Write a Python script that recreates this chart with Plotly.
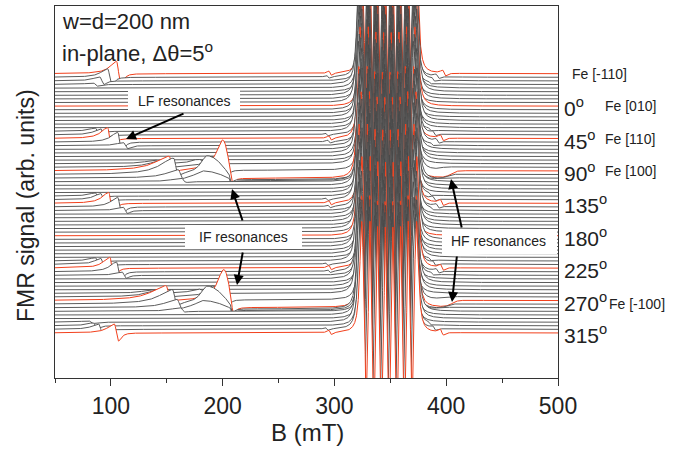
import numpy as np
import plotly.graph_objects as go

# ---------------- data ----------------
ANGLES = list(range(-45, 320, 5))            # 73 spectra, delta theta = 5 deg
RED_ANGLES = [-45, 0, 45, 90, 135, 180, 225, 270, 315]

# main (uniform-mode) band: extrema fields (mT), signed heights (trace-spacing units), half widths (mT)
MAIN_FIELD = [323.0, 326.9, 330.4, 333.8, 337.2, 340.6, 344.1, 347.5,
              350.9, 354.4, 357.8, 361.2, 364.6, 368.1, 372.0]
MAIN_AMP = [32, -30, 32, -32, 32, -32, 32, -32, 32, -32, 32, -32, 32, -30, 32]
MAIN_WIDTH = [2.0, 0.85, 0.85, 0.85, 0.85, 0.85, 0.85, 0.85,
              0.85, 0.85, 0.85, 0.85, 0.85, 0.85, 2.0]
MAIN_SHIFT = [1.6, -0.4, 0.9, -1.3, 0.2, 1.4, -0.9, 0.5, -1.6, 1.1, -0.2, 0.7, -1.1, 1.5, -0.6, 0.3, -1.4, 1.0,
              -0.1, 1.3, -0.8, 0.6, -1.5, 0.1, 1.2, -0.5, 0.8, -1.2, 1.6, -0.3, 0.4, -1.0, 1.4, -0.7, 0.0, -1.6,
              0.9, -0.2, 1.5, -1.1, 0.3, -0.6, 1.1, -1.4, 0.6, -0.9, 1.7, 0.2, -1.3, 0.5, -0.4, 1.0, -1.7, 0.8,
              1.6, -0.8, 0.1, -1.2, 1.3, -0.3, 0.7, -1.5, 0.4, 1.2, -1.0, 0.0, 1.5, -0.6, 0.9, -1.3, 0.3, -0.1, 1.4]

# LF resonances (peak field mT, height in trace-spacing units)
LF_ANGLE = [-45, -40, -35, -30, 35, 40, 45, 50, 55, 125, 130, 135, 140, 145,
            215, 220, 225, 230, 235, 300, 305, 310, 315]
LF_FIELD = [105, 97, 90, 84, 86, 91, 97, 106, 111, 86, 91, 98, 106, 111,
            86, 91, 99, 105, 110, 80, 84, 89, 103]
LF_AMP = [3.4, 2.4, 1.1, 0.5, 0.9, 1.7, 3.0, 2.7, 0.9, 0.9, 1.7, 3.0, 2.7, 0.9,
          0.9, 1.7, 3.0, 2.7, 0.9, 0.4, 0.8, 1.5, 2.5]

# IF resonances: peak field, height, left width, zero-crossing field, negative lobe depth
IF_ANGLE = [80, 85, 90, 95, 100, 105, 80, 85, 90, 95, 100,
            260, 265, 270, 275, 280, 285, 260, 265, 270, 275, 280]
IF_PEAK = [140, 146, 152, 156, 160, 163, 178, 190, 200, 186, 182,
           137, 143, 149, 155, 159, 162, 178, 191, 201, 186, 182]
IF_AMP = [1.0, 2.0, 3.9, 4.3, 2.2, 1.0, 1.2, 3.0, 8.6, 5.2, 2.0,
          1.0, 2.0, 4.0, 3.8, 2.2, 1.0, 1.2, 3.0, 8.6, 5.0, 2.0]
IF_WIDTH = [10, 12, 15, 14, 12, 10, 8, 7, 7, 7, 7,
            10, 12, 15, 14, 12, 10, 8, 7, 7, 7, 7]
IF_ZERO = [143, 149, 155, 159, 163, 166, 186, 204, 207, 206, 206,
           140, 146, 153, 158, 162, 165, 186, 205, 208, 207, 207]
IF_NEG = [0.3, 0.4, 0.6, 0.6, 0.4, 0.2, 0.5, 1.5, 3.0, 2.0, 1.5,
          0.3, 0.4, 0.6, 0.6, 0.4, 0.2, 0.5, 1.5, 3.2, 2.0, 1.5]

# broad negative offset between IF cusp and HF resonance
PL_ANGLE = [85, 90, 95, 100, 265, 270, 275, 280]
PL_START = [207, 210, 210, 209, 208, 211, 210, 209]
PL_END = [395, 404, 400, 392, 395, 405, 400, 392]
PL_DEPTH = [0.8, 2.0, 1.4, 0.7, 0.8, 1.9, 1.3, 0.7]

# HF resonances (small, derivative-like)
HF_ANGLE = [-45, -40, -35, -30, 35, 40, 45, 50, 55, 125, 130, 135, 140, 145,
            215, 220, 225, 230, 235, 305, 310, 315]
HF_FIELD = [398, 392, 388, 385, 385, 389, 396, 392, 387, 385, 389, 396, 392, 387,
            385, 389, 396, 392, 387, 385, 389, 396]
HF_AMP = [0.8, 0.6, 0.5, 0.3, 0.35, 0.6, 0.8, 0.6, 0.35, 0.35, 0.6, 0.8, 0.6, 0.35,
          0.35, 0.6, 0.8, 0.6, 0.35, 0.35, 0.6, 0.8]

# weak line near 295 mT
W_ANGLE = [-45, -40, 40, 45, 50, 130, 135, 140, 220, 225, 230, 310, 315]
W_FIELD = [296, 294, 293, 296, 295, 293, 296, 295, 293, 296, 295, 293, 296]
W_AMP = [0.6, 0.4, 0.4, 0.6, 0.4, 0.4, 0.6, 0.4, 0.4, 0.6, 0.4, 0.4, 0.6]

RIGHT_DEG = [(0, "0"), (45, "45"), (90, "90"), (135, "135"), (180, "180"),
             (225, "225"), (270, "270"), (315, "315")]
RIGHT_FE = [(-45, "Fe [-110]"), (0, "Fe [010]"), (45, "Fe [110]"), (90, "Fe [100]"), (270, "Fe [-100]")]

# ---------------- line shapes ----------------
B = np.concatenate([np.arange(45, 316, 0.25), np.arange(316, 380, 0.04), np.arange(380, 505.01, 0.25)])


def lorentz(x, f, a, w):
    return a / (1 + ((x - f) / w) ** 2)


def deriv(x, f, a, w):
    u = (x - f) / w
    return -a * u / (1 + u * u) ** 2 / 0.32476


def asym(x, bp, a, wl, b0, an, wn):
    y = np.zeros_like(x)
    left = x <= bp
    y[left] = a / (1 + ((bp - x[left]) / wl) ** 2)
    mid = (x > bp) & (x <= b0)
    t = (x[mid] - bp) / (b0 - bp)
    y[mid] = a * np.cos(0.5 * np.pi * t)
    right = x > b0
    u = (x[right] - b0) / wn
    y[right] = -an * u / (1 + u * u) ** 2 / 0.32476
    return y


def sig(x):
    return 1 / (1 + np.exp(-x))


n = len(ANGLES)
fig = go.Figure()
for i, ang in enumerate(ANGLES):
    y = np.full_like(B, float(n - 1 - i))
    for f, a, w in zip(MAIN_FIELD, MAIN_AMP, MAIN_WIDTH):
        y += lorentz(B, f + MAIN_SHIFT[i], a, w)
    for an_, f, a in zip(LF_ANGLE, LF_FIELD, LF_AMP):
        if an_ == ang:
            y += asym(B, f, a, 7.0, f + 2.0, 0.9 * a, 3.5)
    for k, an_ in enumerate(IF_ANGLE):
        if an_ == ang:
            y += asym(B, IF_PEAK[k], IF_AMP[k], IF_WIDTH[k], IF_ZERO[k], IF_NEG[k], 3.0)
    for k, an_ in enumerate(PL_ANGLE):
        if an_ == ang:
            y -= PL_DEPTH[k] * sig((B - PL_START[k]) / 2.0) * sig((PL_END[k] - B) / 2.5)
    for an_, f, a in zip(HF_ANGLE, HF_FIELD, HF_AMP):
        if an_ == ang:
            y += deriv(B, f, a, 2.5)
    for an_, f, a in zip(W_ANGLE, W_FIELD, W_AMP):
        if an_ == ang:
            y += deriv(B, f, a, 2.0)
    y = np.clip(y, -200, 300)
    red = ang in RED_ANGLES
    fig.add_trace(go.Scatter(
        x=np.round(np.concatenate([B, [B[-1], B[0]]]), 2),
        y=np.round(np.concatenate([y, [-1000, -1000]]), 3),
        mode="lines", fill="toself", fillcolor="white",
        line=dict(color="#f2401c" if red else "#4a4a4a", width=1.0 if red else 0.9),
        hoverinfo="skip", showlegend=False))

# ---------------- layout ----------------
L, R, T, BOT = 55, 558, 6, 378
YMIN, YMAX = -12.5, 90.8
FONT = "Arial, Liberation Sans, sans-serif"


def px(x):
    return (x - L) / (R - L)


def py(y):
    return (BOT - y) / (BOT - T)


def base_px(ang):
    i = ANGLES.index(ang)
    yv = n - 1 - i
    return BOT - (yv - YMIN) / (YMAX - YMIN) * (BOT - T)


fig.update_layout(
    width=683, height=454, autosize=False,
    margin=dict(l=L, r=683 - R, t=T, b=454 - BOT),
    paper_bgcolor="white", plot_bgcolor="white",
    font=dict(family=FONT, color="#222", size=14),
)
fig.update_xaxes(range=[50, 500], tick0=0, dtick=100, ticks="outside", ticklen=7, tickwidth=1,
                 tickcolor="#333", showline=True, linecolor="#333", linewidth=1, mirror=True,
                 showgrid=False, zeroline=False, tickfont=dict(size=23, family=FONT, color="#222"),
                 minor=dict(dtick=50, ticks="outside", ticklen=4, tickcolor="#333"))
fig.update_yaxes(range=[YMIN, YMAX], showticklabels=False, ticks="", showline=True, linecolor="#333",
                 linewidth=1, mirror=True, showgrid=False, zeroline=False)

ann = []
ann.append(dict(x=px(307), y=py(432), text="B (mT)", font=dict(size=24)))
ann.append(dict(x=px(26), y=py(206), text="FMR signal (arb. units)", textangle=-90, font=dict(size=23)))
ann.append(dict(x=px(60), y=py(22), xanchor="left", text="w=d=200 nm", font=dict(size=22)))
ann.append(dict(x=px(60), y=py(52), xanchor="left", text="in-plane, \u0394\u03b8=5<sup>o</sup>", font=dict(size=22)))
ann.append(dict(x=px(184), y=py(101), text="LF resonances", font=dict(size=14)))
ann.append(dict(x=px(243), y=py(237), text="IF resonances", font=dict(size=14)))
ann.append(dict(x=px(498), y=py(241), text="HF resonances", font=dict(size=14)))
for ang, t in RIGHT_DEG:
    ann.append(dict(x=px(562), y=py(base_px(ang) + 1), xanchor="left",
                    text=t + "<sup>o</sup>", font=dict(size=21)))
for ang, t in RIGHT_FE:
    xx = 570 if ang == -45 else (607 if ang == 270 else 603)
    ann.append(dict(x=px(xx), y=py(base_px(ang) + (3 if ang == 270 else 0)), xanchor="left",
                    text=t, font=dict(size=14)))
for a in ann:
    a.update(xref="paper", yref="paper", showarrow=False, yanchor=a.get("yanchor", "middle"))
    a.setdefault("xanchor", "center")

ARROWS = [((185, 113), (126, 139)), ((243, 222), (232, 189)), ((243, 251), (237, 285)),
          ((462, 229), (451, 179)), ((457, 255), (452, 302))]
for (tx, ty), (hx, hy) in ARROWS:
    ann.append(dict(x=px(hx), y=py(hy), xref="paper", yref="paper", text="", showarrow=True,
                    ax=tx - hx, ay=ty - hy, arrowhead=2, arrowsize=1.0, arrowwidth=2, arrowcolor="black",
                    font=dict(size=10)))

shapes = []
for (x0, y0, x1, y1) in [(128, 90, 240, 112), (185, 225, 302, 249), (442, 229, 557, 254)]:
    shapes.append(dict(type="rect", xref="paper", yref="paper", x0=px(x0), x1=px(x1), y0=py(y1), y1=py(y0),
                       fillcolor="white", line=dict(width=0), layer="above"))

fig.update_layout(annotations=ann, shapes=shapes)
fig.write_html("out.html", config={"displayModeBar": False})
